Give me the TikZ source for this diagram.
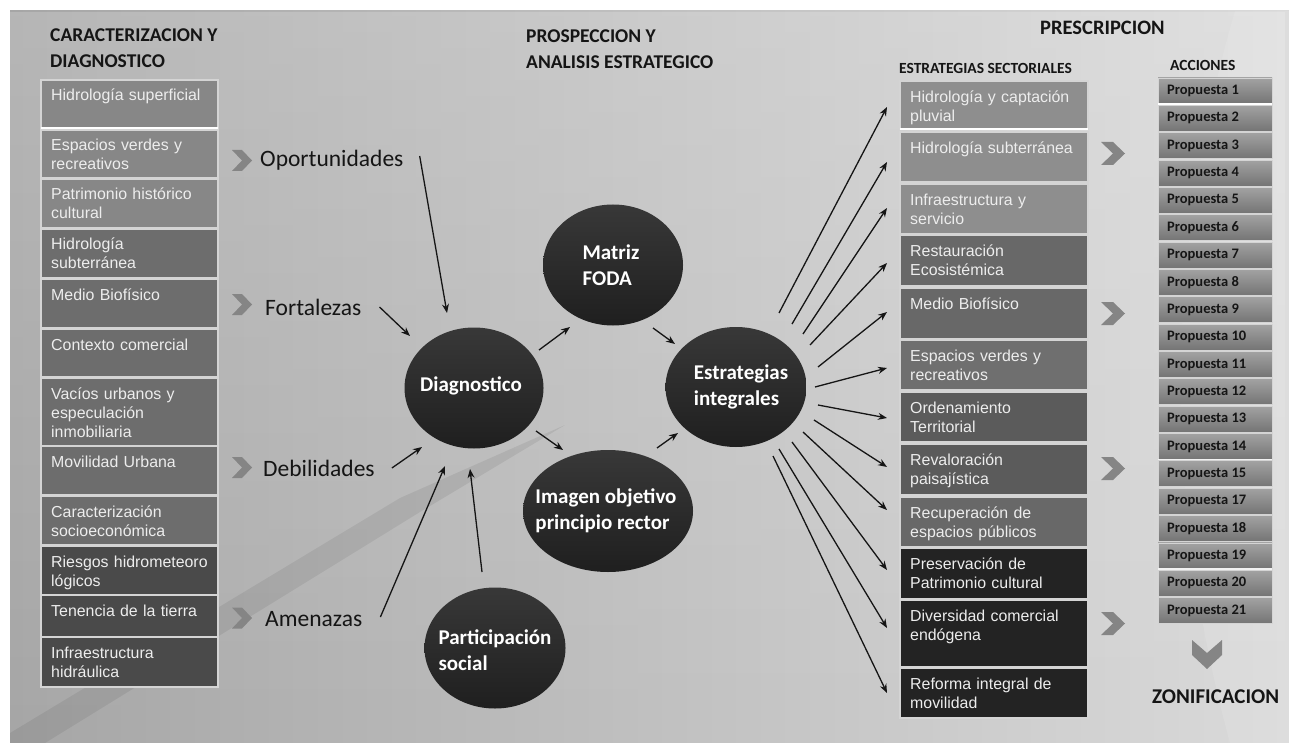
\documentclass[tikz,border=0pt]{standalone}
\usepackage{fontspec}
\setmainfont{Carlito}
\newfontfamily\arialf{Liberation Sans}
\usetikzlibrary{arrows.meta,calc,shapes.geometric,fadings}
\definecolor{bgL}{HTML}{A6A6A6}
\definecolor{bgM}{HTML}{BFBFBF}
\definecolor{bgR}{HTML}{DADADA}
\definecolor{ca}{HTML}{878787}
\definecolor{cb}{HTML}{6D6D6D}
\definecolor{cc}{HTML}{4A4A4A}
\definecolor{ra}{HTML}{8E8E8E}
\definecolor{rb}{HTML}{686868}
\definecolor{rc}{HTML}{6F6F6F}
\definecolor{rd}{HTML}{5B5B5B}
\definecolor{re}{HTML}{232323}
\definecolor{boxline}{HTML}{D4D4D4}
\definecolor{boxtext}{HTML}{EDEDED}
\definecolor{circT}{HTML}{383838}
\definecolor{circB}{HTML}{1F1F1F}
\definecolor{chevc}{HTML}{858585}
\definecolor{propT}{HTML}{A2A2A2}
\definecolor{propB}{HTML}{747474}
\definecolor{ink}{HTML}{151515}
\tikzfading[name=topfade, top color=transparent!82, bottom color=transparent!100]
\begin{document}
\begin{tikzpicture}[x=1pt,y=-1pt,
  lbox/.style={draw=boxline, line width=1.2pt, anchor=north west, minimum width=177, inner sep=0pt, outer sep=0pt},
  rbox/.style={lbox, minimum width=188},
  btxt/.style={anchor=north west, inner sep=0pt, align=left, text width=178, text=boxtext, font=\arialf\fontsize{15.9}{19}\selectfont},
  ellip/.style={ellipse, inner sep=0pt, top color=circT, bottom color=circB, draw=none},
  ctxt/.style={inner sep=0pt, align=left, text=white, font=\bfseries\fontsize{21}{26}\selectfont},
  head/.style={inner sep=0pt, align=left, text=ink, font=\bfseries\fontsize{19.5}{26}\selectfont},
  subhead/.style={head, anchor=west, font=\bfseries\fontsize{15.5}{18}\selectfont},
  fod/.style={anchor=west, inner sep=0pt, text=ink, font=\fontsize{23.5}{28}\selectfont},
  arr/.style={-{Stealth[length=9pt,width=7pt]}, line width=1.3pt, draw=ink},
  prop/.style={draw=boxline, line width=0.9pt, top color=propT, bottom color=propB, minimum width=114, minimum height=26, anchor=north west, inner sep=0pt, outer sep=0pt},
  ptxt/.style={anchor=west, inner sep=0pt, text=ink, font=\bfseries\fontsize{14.5}{16}\selectfont},
  pics/chev/.style n args={3}{code={\fill[chevc] (0,-#2/2) -- (#3,-#2/2) -- (#1,0) -- (#3,#2/2) -- (0,#2/2) -- (#1-#3,0) -- cycle;}}
]
\useasboundingbox (0,0) rectangle (1289,743);
% background
\shade[left color=bgL, middle color=bgM, right color=bgR] (10,11) rectangle (1289,743);
\fill[white, path fading=topfade] (10,11) rectangle (1289,743);
\fill[black, opacity=0.07] (10,733) -- (10,743) -- (45,743) -- (420,512) -- (565,425) -- (400,498) -- cycle;
\fill[white, opacity=0.10] (1235,11) .. controls (1180,200) and (1150,450) .. (1230,743) -- (1289,743) -- (1289,11) -- cycle;

% titles
\node[head, anchor=north west] (t1) at (50,23) {\strut CARACTERIZACION Y\\DIAGNOSTICO};
\node[head, anchor=north west] (t2) at (526,24) {\strut PROSPECCION Y\\ANALISIS ESTRATEGICO};
\node[head, anchor=west, font=\bfseries\fontsize{20.5}{24}\selectfont] (t3) at (1040,28) {PRESCRIPCION};
\node[subhead] (t4) at (899,68) {ESTRATEGIAS SECTORIALES};
\node[subhead] (t5) at (1170,65) {ACCIONES};
\node[head, anchor=west, font=\bfseries\fontsize{21}{24}\selectfont] (t6) at (1152,697) {ZONIFICACION};

% left column
\foreach \n/\ya/\yb/\c/\t in {
 l1/80/128/ca/{Hidrología superficial},
 l2/130/178/ca/{Espacios verdes y\\recreativos},
 l3/179/228/ca/{Patrimonio histórico\\cultural},
 l4/229/278/cb/{Hidrología\\subterránea},
 l5/279/328/cb/{Medio Biofísico},
 l6/329/377/cb/{Contexto comercial},
 l7/378/446/cb/{Vacíos urbanos y\\especulación\\inmobiliaria},
 l8/446/495/cb/{Movilidad Urbana},
 l9/496/545/cb/{Caracterización\\socioeconómica},
 l10/546/595/cc/{Riesgos hidrometeoro\\lógicos},
 l11/595/637/cc/{Tenencia de la tierra},
 l12/637/687/cc/{Infraestructura\\hidráulica}}{
  \node[lbox, fill=\c, minimum height=\yb-\ya] (\n) at (41,\ya) {};
  \node[btxt] (\n-t) at ($(\n.north west)+(10,7.5)$) {\strut\t};
}
\draw[white, line width=2.5pt] (l1.south west) -- (l1.south east);

% FODA labels
\pic at (232,160.5) {chev={20}{21}{10}};
\pic at (232,304.5) {chev={20}{21}{10}};
\pic at (232,467.5) {chev={20}{21}{10}};
\pic at (232,618) {chev={20}{21}{10}};
\node[fod] (op) at (260,160) {Oportunidades};
\node[fod] (fo) at (265,307) {Fortalezas};
\node[fod] (de) at (263,468) {Debilidades};
\node[fod] (am) at (265,619) {Amenazas};

% circles
\node[ellip, minimum width=139, minimum height=121] (diag) at (474,388) {};
\node[ellip, minimum width=140, minimum height=121] (mat) at (613,265) {};
\node[ellip, minimum width=141, minimum height=120] (est) at (736,387) {};
\node[ellip, minimum width=170, minimum height=122] (img) at (608,511) {};
\node[ellip, minimum width=141, minimum height=121] (par) at (495,648) {};
\node[ctxt] (diag-t) at ($(diag)+(-3,-2)$) {Diagnostico};
\node[ctxt] (mat-t) at ($(mat)+(-2,0)$) {Matriz\\FODA};
\node[ctxt] (est-t) at ($(est)+(5,0)$) {Estrategias\\integrales};
\node[ctxt] (img-t) at ($(img)+(-2,0)$) {Imagen objetivo\\principio rector};
\node[ctxt] (par-t) at ($(par)+(0,2)$) {Participación\\social};

% connectors to/from circles
\draw[arr] ($(op.east)+(16,-4)$) -- ($(diag)+(-27,-75)$);
\draw[arr] ($(fo.east)+(18,0)$) -- ($(diag)+(-64,-52)$);
\draw[arr] ($(de.east)+(17,0)$) -- ($(diag)+(-52,59)$);
\draw[arr] ($(am.east)+(18,-2)$) -- ($(diag)+(-29,78)$);
\draw[arr] ($(par)+(-13,-76)$) -- ($(diag)+(-4,81)$);
\draw[arr] ($(diag)+(65,-38)$) -- ($(mat)+(-43,62)$);
\draw[arr] ($(mat)+(40,63)$) -- ($(est)+(-61,-43)$);
\draw[arr] ($(diag)+(62,43)$) -- ($(img)+(-45,-61)$);
\draw[arr] ($(img)+(49,-63)$) -- ($(est)+(-58,46)$);

% right strategy column
\foreach \n/\ya/\yb/\c/\t in {
 s1/81/129/ra/{Hidrología y captación\\pluvial},
 s2/132/182/ra/{Hidrología subterránea},
 s3/184/234/ra/{Infraestructura y\\servicio},
 s4/235/286/rb/{Restauración\\Ecosistémica},
 s5/288/339/rb/{Medio Biofísico},
 s6/340/390/rc/{Espacios verdes y\\recreativos},
 s7/392/442/rd/{Ordenamiento\\Territorial},
 s8/444/495/rd/{Revaloración\\paisajística},
 s9/497/547/rb/{Recuperación de\\espacios públicos},
 s10/548/599/re/{Preservación de\\Patrimonio cultural},
 s11/600/667/re/{Diversidad comercial\\endógena},
 s12/668/718/re/{Reforma integral de\\movilidad}}{
  \node[rbox, fill=\c, minimum height=\yb-\ya] (\n) at (900,\ya) {};
  \node[btxt] (\n-t) at ($(\n.north west)+(10,8)$) {\strut\t};
}
\draw[white, line width=2.5pt] (s1.south west) -- (s1.south east);

% fan of arrows
\foreach \i/\sx/\sy/\ey in {1/43/-74/2, 2/56/-63/5, 3/67/-53/-1, 4/74/-42/2.5, 5/82/-20/-1.5, 6/79/0/3, 7/82/18/1, 8/78/33/-2.5, 9/67/45/-12, 10/56/55/-3.5, 11/43/62/-5.5, 12/37/69/0}{
  \draw[arr] ($(est)+(\sx,\sy)$) -- ($(s\i.west)+(-13,\ey)$);
}

% right chevrons
\pic at (1101,153.5) {chev={24}{23}{12}};
\pic at (1101,313.5) {chev={24}{23}{12}};
\pic at (1101,468.5) {chev={24}{23}{12}};
\pic at (1101,623.5) {chev={24}{23}{12}};

% actions
\foreach \k [count=\i] in {1,2,3,4,5,6,7,8,9,10,11,12,13,14,15,17,18,19,20,21}{
  \pgfmathsetmacro\py{78+27.35*(\i-1)}
  \node[prop] (p\i) at (1158,\py) {};
  \node[ptxt] (p\i-t) at ($(p\i.west)+(9,0)$) {Propuesta \k};
}
\draw[white, line width=2pt] (p1.south west) -- (p1.south east);
\draw[white!90!gray, line width=1.6pt] (p14.south west) -- (p14.south east);
\draw[white!90!gray, line width=1.6pt] (p18.south west) -- (p18.south east);

% down chevron
\fill[chevc] (1192,640) -- (1207,653) -- (1222,640) -- (1222,655) -- (1207,669) -- (1192,655) -- cycle;
\end{tikzpicture}
\end{document}
